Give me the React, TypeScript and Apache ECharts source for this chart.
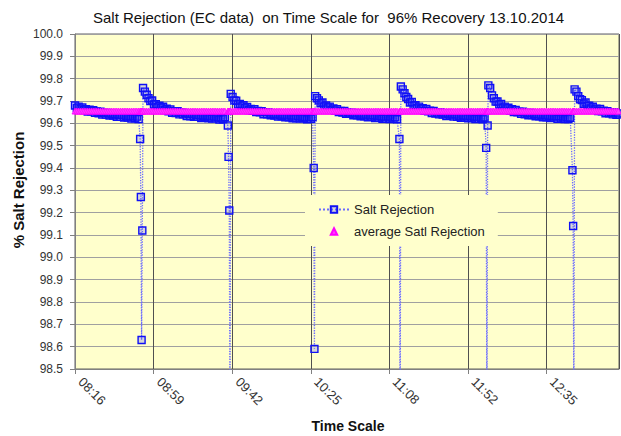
import React, { useEffect, useRef } from "react";
import * as echarts from "echarts";

const TITLE = "Salt Rejection (EC data)  on Time Scale for  96% Recovery 13.10.2014";
const Y_TITLE = "% Salt Rejection";
const X_TITLE = "Time Scale";
const SERIES_NAMES = ["Salt Rejection", "average Satl Rejection"];

// x axis: minutes since 08:16, major unit 0.03 day = 43.2 min
const X_TICK_LABELS = ["08:16", "08:59", "09:42", "10:25", "11:08", "11:52", "12:35"];
const X_TICK_STEP = 43.2;
const X_MAX = 299;
const Y_MIN = 98.5;
const Y_MAX = 100;
const Y_STEP = 0.1;

const AVERAGE = 99.655;

// sampling (minutes)
const SEG0_START = 0;
const DECAY_STEP = 1;
const DROP_STEP = 0.4;
const DROP_STARTS = [35.8, 84.0, 131.2, 178.3, 226.0, 273.4];

const SEG0 = [99.680, 99.669, 99.675, 99.664, 99.671, 99.659, 99.663, 99.653, 99.661, 99.654, 99.659, 99.647, 99.653, 99.645, 99.652, 99.639, 99.646, 99.639, 99.647, 99.635, 99.642, 99.635, 99.641, 99.629, 99.637, 99.629, 99.638, 99.626, 99.632, 99.626, 99.633, 99.621, 99.630, 99.623, 99.630, 99.619];

const DROP_1 = [99.53, 99.27, 98.63, 99.12];
const DROP_2 = [99.59, 99.45, 99.21, 98.2];
const DROP_3 = [99.40, 98.59];
const DROP_4 = [99.53, 98.1];
const DROP_5 = [99.49, 98.2, 99.59];
const DROP_6 = [99.39, 99.14, 98.3];

const DECAY_1 = [99.758, 99.742, 99.728, 99.712, 99.700, 99.702, 99.684, 99.686, 99.672, 99.679, 99.668, 99.674, 99.659, 99.665, 99.654, 99.662, 99.647, 99.654, 99.646, 99.654, 99.640, 99.649, 99.640, 99.646, 99.633, 99.642, 99.632, 99.642, 99.629, 99.636, 99.629, 99.637, 99.624, 99.634, 99.627, 99.634, 99.623, 99.630, 99.621, 99.630, 99.622, 99.628, 99.617, 99.625, 99.618, 99.627];
const DECAY_2 = [99.732, 99.718, 99.703, 99.701, 99.685, 99.687, 99.676, 99.681, 99.668, 99.673, 99.659, 99.664, 99.656, 99.663, 99.650, 99.656, 99.649, 99.654, 99.641, 99.650, 99.641, 99.649, 99.636, 99.642, 99.635, 99.642, 99.630, 99.638, 99.632, 99.639, 99.627, 99.635, 99.627, 99.635, 99.623, 99.630, 99.623, 99.633, 99.621, 99.628, 99.623, 99.629, 99.618, 99.627, 99.620, 99.627];
const DECAY_3 = [99.722, 99.712, 99.703, 99.690, 99.693, 99.676, 99.680, 99.671, 99.675, 99.661, 99.667, 99.657, 99.663, 99.650, 99.655, 99.648, 99.656, 99.643, 99.649, 99.643, 99.648, 99.636, 99.644, 99.636, 99.644, 99.632, 99.638, 99.631, 99.639, 99.627, 99.635, 99.629, 99.636, 99.624, 99.633, 99.625, 99.632, 99.620, 99.628, 99.621, 99.631, 99.619, 99.626, 99.621, 99.627, 99.618];
const DECAY_4 = [99.765, 99.752, 99.735, 99.718, 99.709, 99.693, 99.696, 99.680, 99.681, 99.668, 99.675, 99.664, 99.668, 99.656, 99.664, 99.654, 99.657, 99.646, 99.655, 99.644, 99.648, 99.640, 99.649, 99.639, 99.644, 99.633, 99.643, 99.635, 99.639, 99.630, 99.640, 99.629, 99.634, 99.625, 99.635, 99.626, 99.633, 99.623, 99.633, 99.624, 99.629, 99.619, 99.629, 99.620, 99.625, 99.618, 99.626];
const DECAY_5 = [99.770, 99.758, 99.725, 99.712, 99.697, 99.698, 99.684, 99.687, 99.670, 99.675, 99.666, 99.670, 99.657, 99.663, 99.651, 99.660, 99.649, 99.652, 99.643, 99.652, 99.641, 99.646, 99.636, 99.646, 99.637, 99.642, 99.632, 99.641, 99.632, 99.636, 99.627, 99.638, 99.627, 99.633, 99.624, 99.633, 99.626, 99.631, 99.620, 99.632, 99.622, 99.626, 99.619, 99.628, 99.619, 99.625];
const DECAY_6 = [99.752, 99.742, 99.722, 99.708, 99.704, 99.688, 99.693, 99.678, 99.679, 99.667, 99.674, 99.662, 99.666, 99.655, 99.664, 99.654, 99.657, 99.645, 99.654, 99.645, 99.648, 99.640, 99.649, 99.638, 99.644, 99.635];

const DROPS = [DROP_1, DROP_2, DROP_3, DROP_4, DROP_5, DROP_6];
const DECAYS = [DECAY_1, DECAY_2, DECAY_3, DECAY_4, DECAY_5, DECAY_6];

function buildSalt(): number[][] {
  const pts: number[][] = [];
  SEG0.forEach((v, i) => pts.push([SEG0_START + i * DECAY_STEP, v]));
  DROP_STARTS.forEach((t0, k) => {
    const drop = DROPS[k];
    drop.forEach((v, i) => pts.push([+(t0 + i * DROP_STEP).toFixed(2), v]));
    const t1 = t0 + drop.length * DROP_STEP;
    DECAYS[k].forEach((v, i) => pts.push([+(t1 + i * DECAY_STEP).toFixed(2), v]));
  });
  return pts;
}

const FONT = "Liberation Sans, Arial, sans-serif";

export default function App() {
  const ref = useRef<HTMLDivElement>(null);
  useEffect(() => {
    document.body.style.margin = "0";
    if (!ref.current) return;
    const chart = echarts.init(ref.current, undefined, { renderer: "svg" });
    const salt = buildSalt();
    const avg = salt.map((p) => [p[0], AVERAGE]);
    chart.setOption({
      animation: false,
      backgroundColor: "#ffffff",
      textStyle: { fontFamily: FONT },
      title: {
        text: TITLE,
        left: 88,
        top: 5,
        textStyle: { fontSize: 15, fontWeight: "normal", color: "#111", fontFamily: FONT },
      },
      grid: {
        left: 75,
        right: 2,
        top: 34,
        bottom: 67,
        show: true,
        backgroundColor: "#ffffcc",
        borderColor: "#606060",
        borderWidth: 1,
      },
      legend: {
        orient: "vertical",
        left: 305,
        top: 195,
        backgroundColor: "#ffffcc",
        padding: [8, 13, 8, 13],
        itemWidth: 30,
        itemHeight: 8,
        itemGap: 9,
        textStyle: { fontSize: 13, color: "#222", fontFamily: FONT },
        data: SERIES_NAMES,
      },
      xAxis: {
        type: "value",
        min: 0,
        max: X_MAX,
        interval: X_TICK_STEP,
        axisLine: { show: true, lineStyle: { color: "#808080" } },
        axisTick: { show: true, length: 5, lineStyle: { color: "#808080" } },
        axisLabel: {
          rotate: -45,
          margin: 5,
          padding: [0, 0, 0, 8],
          fontSize: 13,
          color: "#333",
          fontFamily: FONT,
          showMaxLabel: false,
          formatter: (v: number) => {
            const idx = Math.round(v / X_TICK_STEP);
            if (Math.abs(idx * X_TICK_STEP - v) > 0.01) return "";
            return X_TICK_LABELS[idx] ?? "";
          },
        },
        splitLine: { show: true, lineStyle: { color: "#505050", width: 1 } },
      },
      yAxis: {
        type: "value",
        min: Y_MIN,
        max: Y_MAX,
        interval: Y_STEP,
        axisLine: { show: true, lineStyle: { color: "#808080" } },
        axisTick: { show: true, length: 5, lineStyle: { color: "#808080" } },
        axisLabel: {
          margin: 12,
          fontSize: 12,
          color: "#333",
          fontFamily: FONT,
          formatter: (v: number) => v.toFixed(1),
        },
        splitLine: { show: true, lineStyle: { color: "#a0a0a0", width: 1 } },
      },
      graphic: [
        {
          type: "text",
          x: 18,
          y: 190,
          rotation: Math.PI / 2,
          style: {
            text: Y_TITLE,
            fontSize: 15,
            fontWeight: "bold",
            fill: "#111",
            fontFamily: FONT,
            align: "center",
            verticalAlign: "middle",
          },
        },
        {
          type: "text",
          x: 348,
          y: 426,
          style: {
            text: X_TITLE,
            fontSize: 14,
            fontWeight: "bold",
            fill: "#111",
            fontFamily: FONT,
            align: "center",
            verticalAlign: "middle",
          },
        },
      ],
      series: [
        {
          name: SERIES_NAMES[0],
          type: "line",
          data: salt,
          symbol: "rect",
          symbolSize: 7,
          showAllSymbol: true,
          lineStyle: { type: "dotted", color: "#6b6bff", width: 1.3 },
          itemStyle: { color: "rgba(70,70,255,0.22)", borderColor: "#1010f5", borderWidth: 1.4 },
          clip: true,
        },
        {
          name: SERIES_NAMES[1],
          type: "line",
          data: avg,
          symbol: "triangle",
          symbolSize: 6,
          showAllSymbol: true,
          lineStyle: { width: 0, opacity: 0 },
          itemStyle: { color: "#ff44ff", borderColor: "#ff00ff", borderWidth: 0.8 },
          clip: true,
        },
      ],
    });
    return () => chart.dispose();
  }, []);
  return <div ref={ref} style={{ width: 621, height: 436 }} />;
}
